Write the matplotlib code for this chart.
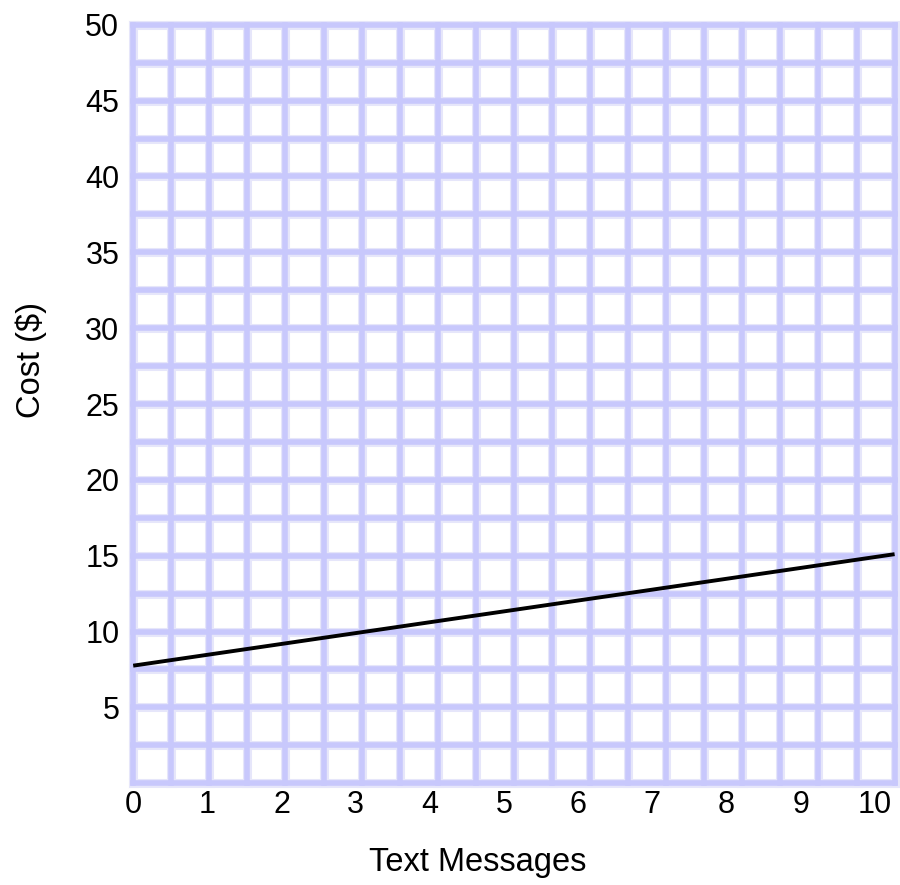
import matplotlib.pyplot as plt
import numpy as np

plt.rcParams["font.family"] = ["Liberation Sans", "DejaVu Sans"]

# data
x_vals = [0, 10]
cost = [7.75, 15.1]
x_ticks = list(range(0, 11))
y_ticks = list(range(5, 51, 5))
x_grid = np.arange(0, 10.01, 0.5)
y_grid = np.arange(0, 50.01, 2.5)
# the tick labels in the original sit on a slightly tighter scale than the grid
label_scale = 0.974


def main() -> None:
    fig = plt.figure(figsize=(9, 8.85), dpi=100)
    ax = fig.add_axes([0.148, 0.115, 0.846, 0.857])
    ax.set_xlim(0, 10)
    ax.set_ylim(0, 50)

    for gx in x_grid:
        ax.axvline(gx, color="#e6e6fa", lw=6.5, zorder=1, clip_on=False)
        ax.axvline(gx, color="#c8c8fc", lw=4.0, zorder=2, clip_on=False)
    for gy in y_grid:
        ax.axhline(gy, color="#e6e6fa", lw=6.5, zorder=1, clip_on=False)
        ax.axhline(gy, color="#c8c8fc", lw=4.0, zorder=2, clip_on=False)

    ax.plot(x_vals, cost, color="black", lw=2.8, zorder=5, solid_capstyle="butt")

    for side in ax.spines.values():
        side.set_visible(False)

    ax.set_xticks([t * label_scale for t in x_ticks])
    ax.set_xticklabels([str(t) for t in x_ticks])
    ax.set_yticks(y_ticks)
    ax.set_yticklabels([str(t) for t in y_ticks])
    ax.tick_params(axis="both", length=0, labelsize=22)
    ax.tick_params(axis="x", pad=5)
    ax.tick_params(axis="y", pad=10)

    ax.set_xlabel("Text Messages", fontsize=23.5)
    ax.xaxis.set_label_coords(0.453, -0.084)
    ax.set_ylabel("Cost ($)", fontsize=23.5)
    ax.yaxis.set_label_coords(-0.113, 0.558)

    fig.savefig("out.png", dpi=100)
    plt.close(fig)


if __name__ == "__main__":
    main()
